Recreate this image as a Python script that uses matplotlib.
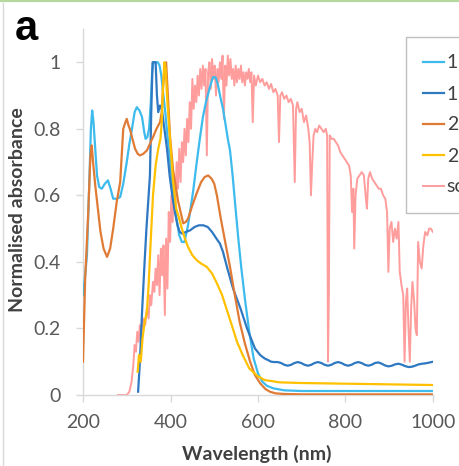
import matplotlib
matplotlib.use("Agg")
import matplotlib.pyplot as plt
from matplotlib.lines import Line2D

# ---------------- data ----------------
s1a_wl = [200, 205, 209, 214, 218, 221, 224, 227, 232, 237, 243, 250, 257, 263, 269, 277, 285, 292, 300,
          306, 312, 318, 323, 329, 335, 340, 343, 347, 351, 355, 358, 361, 371, 375, 379, 383, 388, 393,
          399, 405, 410, 415, 420, 426, 432, 440, 447, 452, 460, 467, 474, 481, 490, 497, 503, 508, 514,
          520, 525, 531, 536, 542, 547, 555, 562, 570, 580, 590, 600, 610, 620, 635, 660, 700, 1000]
s1a_val = [0.30, 0.36, 0.42, 0.62, 0.80, 0.855, 0.82, 0.76, 0.66, 0.625, 0.62, 0.635, 0.645, 0.62, 0.59,
           0.59, 0.595, 0.635, 0.70, 0.755, 0.80, 0.85, 0.865, 0.855, 0.835, 0.79, 0.77, 0.775, 0.80,
           0.88, 0.97, 1.0, 1.0, 0.99, 0.96, 0.91, 0.85, 0.78, 0.705, 0.62, 0.56, 0.52, 0.48, 0.46, 0.46,
           0.51, 0.57, 0.615, 0.70, 0.77, 0.835, 0.88, 0.925, 0.955, 0.955, 0.935, 0.895, 0.86, 0.82,
           0.77, 0.735, 0.66, 0.585, 0.47, 0.38, 0.29, 0.19, 0.11, 0.065, 0.04, 0.028, 0.02, 0.014,
           0.012, 0.012]

s1b_wl = [326, 330, 335, 340, 345, 350, 353, 356, 359, 366, 369, 372, 376, 380, 386, 392, 398, 404, 410,
          416, 421, 427, 435, 445, 455, 465, 475, 485, 495, 505, 513, 520, 530, 543, 560, 575, 593, 605,
          615, 623, 630, 637, 645, 653, 660, 668, 676, 683, 691, 699, 706, 714, 722, 729, 737, 745, 752,
          760, 768, 775, 783, 791, 798, 806, 814, 821, 829, 837, 844, 852, 860, 867, 875, 883, 890, 898,
          906, 913, 921, 929, 936, 944, 952, 959, 967, 975, 982, 990, 1000]
s1b_val = [0.01, 0.10, 0.25, 0.38, 0.50, 0.60, 0.66, 0.85, 1.0, 1.0, 0.90, 0.85, 0.87, 0.86, 0.80, 0.74,
           0.66, 0.60, 0.55, 0.51, 0.49, 0.485, 0.49, 0.495, 0.505, 0.51, 0.51, 0.505, 0.49, 0.47, 0.455,
           0.43, 0.38, 0.32, 0.26, 0.20, 0.14, 0.12, 0.11, 0.105, 0.10, 0.099, 0.099, 0.096, 0.091,
           0.088, 0.091, 0.096, 0.099, 0.096, 0.091, 0.088, 0.091, 0.096, 0.099, 0.096, 0.091, 0.088,
           0.091, 0.096, 0.099, 0.096, 0.091, 0.088, 0.091, 0.096, 0.099, 0.096, 0.091, 0.088, 0.091,
           0.096, 0.098, 0.094, 0.089, 0.086, 0.088, 0.092, 0.094, 0.091, 0.087, 0.084, 0.085, 0.088,
           0.092, 0.094, 0.095, 0.097, 0.100]

s2a_wl = [200, 205, 212, 217, 220, 223, 228, 234, 240, 247, 255, 262, 269, 277, 285, 292, 297, 300, 304,
          307, 313, 319, 325, 330, 338, 346, 353, 360, 368, 376, 380, 383, 387, 390, 394, 399, 406, 417,
          429, 435, 440, 450, 460, 470, 478, 486, 494, 500, 506, 515, 525, 536, 547, 558, 570, 582, 593,
          605, 617, 627, 640, 660, 700, 1000]
s2a_val = [0.10, 0.35, 0.55, 0.72, 0.75, 0.70, 0.63, 0.56, 0.49, 0.44, 0.415, 0.44, 0.50, 0.58, 0.64,
           0.80, 0.82, 0.83, 0.81, 0.80, 0.77, 0.74, 0.725, 0.72, 0.725, 0.735, 0.755, 0.775, 0.80,
           0.82, 0.85, 0.925, 0.99, 1.0, 0.90, 0.775, 0.675, 0.585, 0.516, 0.52, 0.53, 0.57, 0.607,
           0.64, 0.655, 0.66, 0.65, 0.635, 0.60, 0.53, 0.46, 0.385, 0.30, 0.22, 0.155, 0.10, 0.06,
           0.035, 0.018, 0.01, 0.005, 0.003, 0.002, 0.002]

s2b_wl = [325, 328, 332, 336, 341, 346, 350, 355, 360, 366, 372, 377, 380, 383, 386, 389, 392, 396, 400,
          406, 413, 420, 426, 433, 440, 450, 460, 470, 483, 495, 506, 518, 529, 540, 552, 565, 580, 598,
          615, 650, 700, 800, 900, 1000]
s2b_val = [0.07, 0.12, 0.10, 0.17, 0.22, 0.25, 0.33, 0.47, 0.60, 0.69, 0.74, 0.77, 0.82, 0.93, 1.0, 0.98,
           0.90, 0.82, 0.75, 0.64, 0.56, 0.53, 0.50, 0.47, 0.445, 0.42, 0.405, 0.395, 0.385, 0.365,
           0.336, 0.30, 0.255, 0.21, 0.16, 0.12, 0.08, 0.058, 0.045, 0.038, 0.036, 0.034, 0.032, 0.03]

solar_wl = [280, 300, 306, 311, 315, 318, 321, 324, 327, 330, 334, 338, 342, 346, 350, 353, 356, 360, 363,
            366, 369, 372, 375, 378, 381, 384, 387, 390, 393, 396, 399, 402, 405, 408, 411, 414, 417, 420,
            423, 426, 429, 432, 435, 438, 441, 444, 447, 450, 453, 456, 459, 462, 465, 468, 471, 474, 477,
            480, 483, 486, 489, 492, 495, 498, 501, 504, 507, 510, 513, 516, 519, 522, 525, 528, 531, 534,
            537, 540, 543, 546, 549, 552, 555, 558, 561, 564, 567, 570, 573, 576, 579, 582, 585, 588, 591,
            595, 600, 605, 610, 615, 620, 625, 630, 635, 640, 645, 648, 651, 655, 660, 665, 670, 675, 680,
            684, 687, 690, 695, 700, 705, 710, 715, 718, 721, 724, 727, 731, 735, 740, 745, 750, 755, 758,
            760, 762, 764, 768, 773, 778, 783, 788, 793, 798, 803, 808, 812, 815, 818, 820, 823, 827, 832,
            837, 842, 846, 849, 852, 856, 861, 866, 871, 876, 881, 886, 891, 895, 898, 901, 905, 909, 913,
            917, 921, 924, 928, 932, 935, 938, 941, 944, 947, 950, 953, 957, 960, 963, 966, 970, 974, 978,
            982, 987, 991, 995, 1000]
solar_val = [0.0, 0.0, 0.01, 0.04, 0.09, 0.15, 0.13, 0.19, 0.16, 0.21, 0.19, 0.23, 0.21, 0.26, 0.23, 0.30,
             0.27, 0.34, 0.31, 0.38, 0.33, 0.42, 0.30, 0.44, 0.36, 0.45, 0.24, 0.47, 0.32, 0.55, 0.46,
             0.60, 0.52, 0.66, 0.57, 0.70, 0.62, 0.74, 0.64, 0.76, 0.70, 0.80, 0.72, 0.83, 0.76, 0.88,
             0.80, 0.95, 0.86, 0.93, 0.88, 0.96, 0.90, 0.98, 0.92, 0.99, 0.93, 0.98, 0.72, 0.97, 1.0, 0.92,
             1.01, 0.95, 0.99, 0.90, 0.98, 0.94, 1.0, 0.95, 1.02, 0.83, 0.99, 0.93, 1.02, 0.96, 1.01, 0.95,
             0.98, 0.93, 0.99, 0.94, 0.98, 0.95, 0.99, 0.94, 0.97, 0.93, 0.97, 0.95, 0.98, 0.94, 0.97,
             0.82, 0.96, 0.93, 0.96, 0.94, 0.95, 0.93, 0.94, 0.92, 0.935, 0.91, 0.92, 0.90, 0.76, 0.90,
             0.91, 0.89, 0.90, 0.88, 0.89, 0.87, 0.64, 0.86, 0.88, 0.85, 0.86, 0.82, 0.84, 0.80, 0.76,
             0.60, 0.70, 0.78, 0.80, 0.79, 0.81, 0.80, 0.79, 0.80, 0.78, 0.10, 0.30, 0.78, 0.77, 0.77,
             0.76, 0.75, 0.73, 0.72, 0.71, 0.70, 0.69, 0.66, 0.55, 0.62, 0.44, 0.60, 0.65, 0.66, 0.67,
             0.66, 0.60, 0.56, 0.65, 0.67, 0.65, 0.64, 0.63, 0.62, 0.62, 0.60, 0.59, 0.55, 0.37, 0.50,
             0.52, 0.46, 0.50, 0.47, 0.52, 0.37, 0.33, 0.30, 0.10, 0.28, 0.32, 0.20, 0.10, 0.26, 0.34,
             0.28, 0.20, 0.18, 0.46, 0.40, 0.38, 0.45, 0.49, 0.48, 0.50, 0.50, 0.49]

labels = ["1", "1", "2", "2", "solar"]
x_ticks = [200, 400, 600, 800, 1000]
y_ticks = [0, 0.2, 0.4, 0.6, 0.8, 1.0]
y_tick_labels = ["0", "0.2", "0.4", "0.6", "0.8", "1"]

# ---------------- style ----------------
c_lightblue = "#3dbbec"
c_blue = "#2f78c2"
c_orange = "#e07b36"
c_gold = "#ffc000"
c_solar = "#ff5a5a"
FONT = "Lato"

W, H = 460, 466
fig = plt.figure(figsize=(W / 100, H / 100), dpi=100)
ax = fig.add_axes([83 / W, 71 / H, 350 / W, 366 / H])

ax.plot(solar_wl, solar_val, color=c_solar, lw=1.4, alpha=0.6, label=labels[4], zorder=1)
ax.plot(s1a_wl, s1a_val, color=c_lightblue, lw=1.6, label=labels[0], zorder=3)
ax.plot(s1b_wl, s1b_val, color=c_blue, lw=1.6, label=labels[1], zorder=3)
ax.plot(s2a_wl, s2a_val, color=c_orange, lw=1.6, label=labels[2], zorder=3)
ax.plot(s2b_wl, s2b_val, color=c_gold, lw=1.6, label=labels[3], zorder=3)

ax.set_xlim(200, 1000)
ax.set_ylim(0, 1.1)
ax.set_xticks(x_ticks)
ax.set_xticklabels([str(v) for v in x_ticks])
ax.set_yticks(y_ticks)
ax.set_yticklabels(y_tick_labels)

for s in ["top", "right"]:
    ax.spines[s].set_visible(False)
for s in ["left", "bottom"]:
    ax.spines[s].set_color("#d9d9d9")
    ax.spines[s].set_linewidth(1.0)
ax.tick_params(axis="both", direction="out", length=5, width=1, color="#d9d9d9",
               labelcolor="#595959", labelsize=14)
ax.tick_params(axis="y", pad=11)
ax.tick_params(axis="x", pad=9)
for t in ax.get_xticklabels() + ax.get_yticklabels():
    t.set_fontfamily(FONT)

fig.text(18 / W, 1 - 210 / H, "Normalised absorbance", rotation=90, ha="center", va="center",
         fontsize=14, fontweight="bold", color="#404040", family=FONT)
fig.text(257 / W, 1 - 454 / H, "Wavelength (nm)", ha="center", va="center",
         fontsize=14, fontweight="bold", color="#404040", family=FONT)

handles, labs = ax.get_legend_handles_labels()
order = [1, 2, 3, 4, 0]
leg = fig.legend([handles[i] for i in order], [labs[i] for i in order], loc="upper left",
                 bbox_to_anchor=(406 / W, 1 - 37 / H), frameon=True, fancybox=False,
                 edgecolor="#bfbfbf", framealpha=1, handlelength=1.05, handletextpad=0.15,
                 borderpad=0.9, labelspacing=0.72, borderaxespad=0,
                 prop={"family": FONT, "size": 14})
for t in leg.get_texts():
    t.set_color("#404040")
leg.get_frame().set_linewidth(1.0)

fig.text(15 / W, 1 - 40 / H, "a", fontsize=30, fontweight="bold", color="black",
         family="Liberation Sans", ha="left", va="baseline")

fig.add_artist(Line2D([0, 1], [1 - 0.8 / H, 1 - 0.8 / H], transform=fig.transFigure,
                      color="#b5d89d", lw=1.6))
fig.add_artist(Line2D([3.5 / W, 3.5 / W], [0, 1 - 3 / H], transform=fig.transFigure,
                      color="#d9d9d9", lw=1.0))

fig.savefig("out.png", dpi=100)
